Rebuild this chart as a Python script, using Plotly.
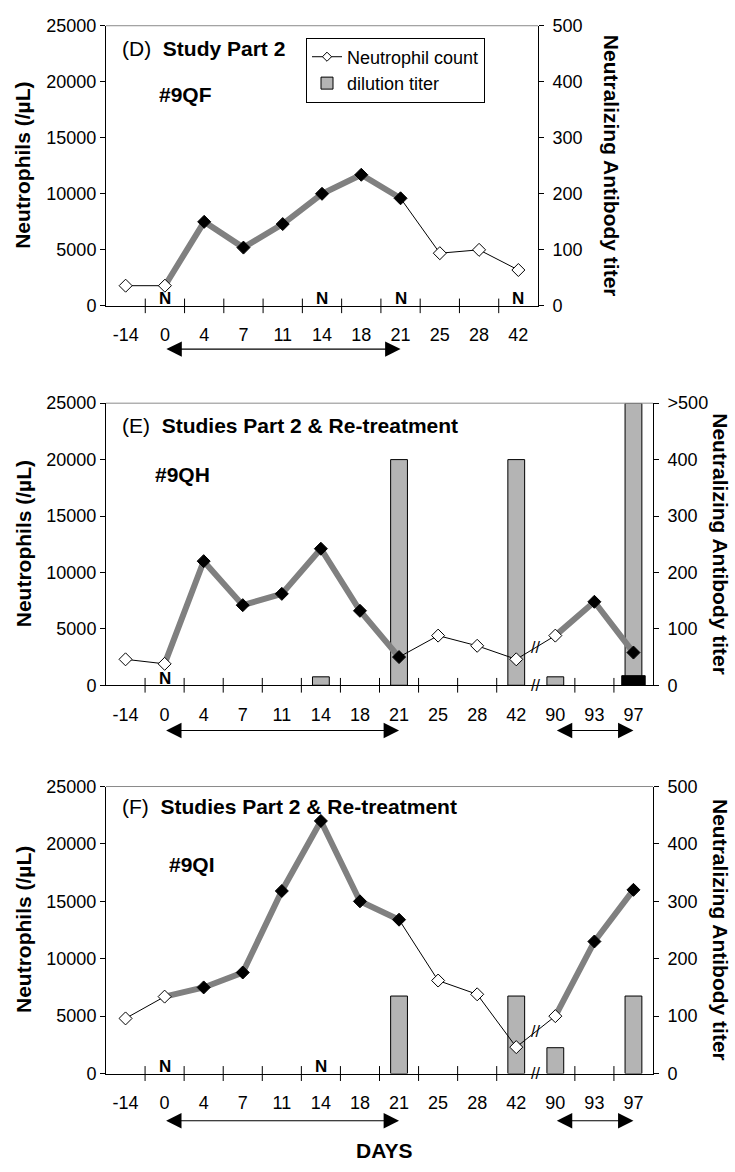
import plotly.graph_objects as go

# ---------------- data ----------------
days_d = ["-14", "0", "4", "7", "11", "14", "18", "21", "25", "28", "42"]
days_ef = ["-14", "0", "4", "7", "11", "14", "18", "21", "25", "28", "42", "90", "93", "97"]

neut_d = [1800, 1800, 7500, 5200, 7300, 10000, 11700, 9600, 4700, 5000, 3200]
neut_e = [2300, 1900, 11000, 7100, 8100, 12100, 6600, 2500, 4400, 3500, 2300, 4400, 7400, 2900]
neut_f = [4800, 6700, 7500, 8800, 15900, 22000, 15000, 13400, 8100, 6900, 2300, 5000, 11500, 16000]

titer_d = [0, 0, 0, 0, 0, 0, 0, 0, 0, 0, 0]
titer_e = [0, 0, 0, 0, 0, 15, 0, 400, 0, 0, 400, 15, 0, 500]
titer_e_black = [0, 0, 0, 0, 0, 0, 0, 0, 0, 0, 0, 0, 0, 17]
titer_f = [0, 0, 0, 0, 0, 0, 0, 135, 0, 0, 135, 45, 0, 135]

treat_d = [("0", "21")]
treat_ef = [("0", "21"), ("90", "97")]

n_days_d = ["0", "14", "21", "42"]
n_days_e = ["0"]
n_days_f = ["0", "14"]

left_ticks = [0, 5000, 10000, 15000, 20000, 25000]
left_text = ["0", "5000", "10000", "15000", "20000", "25000"]
right_ticks = [0, 100, 200, 300, 400, 500]
right_text_d = ["0", "100", "200", "300", "400", "500"]
right_text_e = ["0", "100", "200", "300", "400", ">500"]
right_text_f = ["0", "100", "200", "300", "400", "500"]

panels = [
    dict(days=days_d, neut=neut_d, titer=titer_d, black=None, treat=treat_d,
         ndays=n_days_d, rtext=right_text_d, letter="(D)", title="Study Part 2",
         animal="#9QF", brk=None),
    dict(days=days_ef, neut=neut_e, titer=titer_e, black=titer_e_black, treat=treat_ef,
         ndays=n_days_e, rtext=right_text_e, letter="(E)",
         title="Studies Part 2 & Re-treatment", animal="#9QH", brk=("42", "90")),
    dict(days=days_ef, neut=neut_f, titer=titer_f, black=None, treat=treat_ef,
         ndays=n_days_f, rtext=right_text_f, letter="(F)",
         title="Studies Part 2 & Re-treatment", animal="#9QI", brk=("42", "90")),
]

# ---------------- layout geometry (pixels) ----------------
W, H = 735, 1172
FONT = "Liberation Sans, Arial, Helvetica, sans-serif"
plot_px = [  # (left, right, top, bottom)
    (106, 538, 16, 301),
    (106, 653, 400, 687),
    (106, 653, 790, 1082),
]
arrow_px = [345, 733, 1130]
animal_px = [(157, 86), (153, 473), (167, 869)]
title_px = [39, 423, 810]
right_title_x = [611, 721, 721]

GRAY_LINE = "#808080"
BAR_FILL = "#b4b4b4"

fig = go.Figure()
annotations = []
shapes = []

for p, pan in enumerate(panels):
    L, R, T, B = plot_px[p]
    xa = "x" if p == 0 else f"x{p + 1}"
    yb = "y" if p == 0 else f"y{2 * p + 1}"      # base axis: titer (right)
    yn = f"y{2 * p + 2}"                          # overlay axis: neutrophils (left)
    xname = "xaxis" if p == 0 else f"xaxis{p + 1}"
    ybname = "yaxis" if p == 0 else f"yaxis{2 * p + 1}"
    ynname = f"yaxis{2 * p + 2}"
    days = pan["days"]
    n = len(days)
    idx = list(range(n))
    pos = {d: i for i, d in enumerate(days)}

    # bars (right axis)
    fig.add_trace(go.Bar(
        x=idx, y=[v if v else None for v in pan["titer"]], width=0.43,
        marker=dict(color=BAR_FILL, line=dict(color="black", width=1)),
        xaxis=xa, yaxis=yb, showlegend=False, name="dilution titer"))
    if pan["black"] is not None:
        fig.add_trace(go.Bar(
            x=idx, y=[v if v else None for v in pan["black"]], width=0.6,
            marker=dict(color="black", line=dict(color="black", width=1)),
            xaxis=xa, yaxis=yb, showlegend=False))

    # thin black line through all points
    fig.add_trace(go.Scatter(
        x=idx, y=pan["neut"], mode="lines", line=dict(color="black", width=1),
        xaxis=xa, yaxis=yn, showlegend=False, hoverinfo="skip"))

    # thick gray line for treatment windows
    in_win = [False] * n
    filled = [False] * n
    for s, e in pan["treat"]:
        for i in range(pos[s], pos[e] + 1):
            in_win[i] = True
            if i > pos[s]:
                filled[i] = True
    fig.add_trace(go.Scatter(
        x=idx, y=[v if in_win[i] else None for i, v in enumerate(pan["neut"])],
        mode="lines", line=dict(color=GRAY_LINE, width=6), connectgaps=False,
        xaxis=xa, yaxis=yn, showlegend=False, hoverinfo="skip"))

    # markers
    fig.add_trace(go.Scatter(
        x=idx, y=pan["neut"], mode="markers",
        marker=dict(symbol="diamond", size=10,
                    color=["black" if f else "white" for f in filled],
                    line=dict(color="black", width=1)),
        xaxis=xa, yaxis=yn, showlegend=False, name="Neutrophil count"))

    # axes
    fig.update_layout(**{
        xname: dict(domain=[L / W, R / W], anchor=yb, range=[-0.5, n - 0.5],
                    tickmode="array", tickvals=idx, ticktext=days,
                    ticks="outside", ticklen=13, tickcolor="rgba(0,0,0,0)",
                    showline=True, linecolor="black", linewidth=1,
                    showgrid=False, zeroline=False,
                    tickfont=dict(family=FONT, size=18, color="black")),
        ybname: dict(domain=[1 - B / H, 1 - T / H], anchor=xa, side="right",
                     range=[0, 500],
                     tickmode="array", tickvals=right_ticks, ticktext=pan["rtext"],
                     ticks="outside", ticklen=5, tickcolor="black",
                     ticklabelstandoff=5,
                     showline=True, linecolor="black", linewidth=1,
                     showgrid=False, zeroline=False,
                     tickfont=dict(family=FONT, size=18, color="black")),
        ynname: dict(overlaying=yb, anchor=xa, side="left", range=[0, 25000],
                     tickmode="array", tickvals=left_ticks, ticktext=left_text,
                     ticks="outside", ticklen=5, tickcolor="black",
                     showline=True, linecolor="black", linewidth=1,
                     showgrid=False, zeroline=False,
                     tickfont=dict(family=FONT, size=18, color="black")),
    })

    # top frame line
    shapes.append(dict(type="line", xref=f"{xa} domain", yref=f"{yb} domain",
                       x0=0, x1=1, y0=1, y1=1, line=dict(color="#8a8a8a", width=1)))

    # crossing tick marks between categories
    for k in range(n - 1):
        b = k + 0.5
        if pan["brk"] is not None and k == pos[pan["brk"][0]]:
            continue
        shapes.append(dict(type="line", xref=xa, yref=f"{yb} domain",
                           x0=b, x1=b, y0=-0.026, y1=0.026,
                           line=dict(color="black", width=1)))

    # axis break and line break marks
    if pan["brk"] is not None:
        i0, i1 = pos[pan["brk"][0]], pos[pan["brk"][1]]
        xm = (i0 + i1) / 2
        annotations.append(dict(x=xm, y=0, xref=xa, yref=yn, text="//",
                                showarrow=False, font=dict(family=FONT, size=16, color="black"),
                                yanchor="middle"))
        ym = (pan["neut"][i0] + pan["neut"][i1]) / 2
        annotations.append(dict(x=xm, y=ym, xref=xa, yref=yn, text="//",
                                showarrow=False, font=dict(family=FONT, size=16, color="black"),
                                yanchor="middle"))

    # N labels
    for d in pan["ndays"]:
        annotations.append(dict(x=pos[d], y=0, xref=xa, yref=yn, text="<b>N</b>",
                                showarrow=False, yanchor="middle", yshift=7,
                                font=dict(family=FONT, size=17, color="black")))

    # treatment arrows
    for s, e in pan["treat"]:
        annotations.append(dict(x=pos[e], y=1 - arrow_px[p] / H, xref=xa, yref="paper",
                                ax=pos[s], ay=0, axref=xa, ayref="pixel",
                                text="", showarrow=True, arrowside="end+start",
                                arrowhead=2, startarrowhead=2,
                                arrowsize=2.8, startarrowsize=2.8, arrowwidth=1.1,
                                arrowcolor="black"))

    # panel titles
    annotations.append(dict(x=120 / W, y=1 - title_px[p] / H, xref="paper", yref="paper",
                            xanchor="left", yanchor="middle", showarrow=False,
                            text=pan["letter"] + "\u00a0\u00a0<b>" + pan["title"] + "</b>",
                            font=dict(family=FONT, size=21, color="black")))
    annotations.append(dict(x=animal_px[p][0] / W, y=1 - animal_px[p][1] / H,
                            xref="paper", yref="paper", xanchor="left", yanchor="middle",
                            showarrow=False, text="<b>" + pan["animal"] + "</b>",
                            font=dict(family=FONT, size=21, color="black")))

    # axis titles
    annotations.append(dict(x=23 / W, y=0.5, xref="paper", yref=f"{yb} domain",
                            textangle=-90, showarrow=False, xanchor="center", yanchor="middle",
                            text="<b>Neutrophils (/\u00b5L)</b>",
                            font=dict(family=FONT, size=21, color="black")))
    annotations.append(dict(x=right_title_x[p] / W, y=0.5, xref="paper", yref=f"{yb} domain",
                            textangle=90, showarrow=False, xanchor="center", yanchor="middle",
                            text="<b>Neutralizing Antibody titer</b>",
                            font=dict(family=FONT, size=21, color="black")))

# legend-only traces
fig.add_trace(go.Scatter(
    x=[None], y=[None], mode="lines+markers", name="Neutrophil count",
    line=dict(color="black", width=1),
    marker=dict(symbol="diamond", size=7, color="white", line=dict(color="black", width=1)),
    xaxis="x", yaxis="y2"))
fig.add_trace(go.Bar(
    x=[None], y=[None], name="dilution titer",
    marker=dict(color=BAR_FILL, line=dict(color="black", width=1)),
    xaxis="x", yaxis="y"))

annotations.append(dict(x=384 / W, y=1 - 1160 / H, xref="paper", yref="paper",
                        xanchor="center", yanchor="middle",
                        showarrow=False, text="<b>DAYS</b>",
                        font=dict(family=FONT, size=21, color="black")))

fig.update_layout(
    width=W, height=H, margin=dict(l=0, r=0, t=0, b=0),
    paper_bgcolor="white", plot_bgcolor="white",
    barmode="overlay",
    font=dict(family=FONT, color="black"),
    showlegend=True,
    legend=dict(x=306 / W, y=1 - 28 / H, xanchor="left", yanchor="top",
                bgcolor="white", bordercolor="black", borderwidth=1,
                font=dict(family=FONT, size=18, color="black"),
                tracegroupgap=0, itemwidth=30),
    annotations=annotations,
    shapes=shapes,
)

fig.write_html("out.html")
